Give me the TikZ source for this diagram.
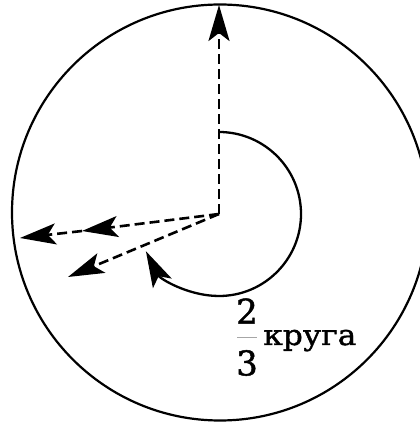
\documentclass[tikz,border=0pt]{standalone}
\usepackage{fontspec}
\setmainfont[FakeBold=1.4]{DejaVu Serif}
\newfontfamily\rufont[FakeStretch=1.1,FakeBold=1.4]{DejaVu Serif}
\usetikzlibrary{arrows.meta}
\begin{document}
\begin{tikzpicture}[x=1pt,y=1pt,
  tip/.style={-{Stealth[length=36pt,width=21pt,inset=8pt]}},
  vec/.style={tip, dash pattern=on 10pt off 5pt, line width=2.6pt},
  turn/.style={tip, line width=2.3pt},
  rim/.style={line width=2.2pt},
  digit/.style={inner sep=0pt, font=\fontsize{34}{34}\selectfont},
  word/.style={anchor=base west, inner sep=0pt, font=\rufont\fontsize{28.5}{28.5}\selectfont}]
\useasboundingbox (0,0) rectangle (420,426);
\begin{scope}
  \clip (0,0) rectangle (420,426);
  \draw[rim] (220,213.5) circle (208);
\end{scope}
\coordinate (O) at (219,212);
\coordinate (T) at (219,421);
\coordinate (M) at (82,195);
\coordinate (F) at (20,188);
\coordinate (D) at (68,149);
\draw[vec] (O) -- (T);
\draw[vec] (O) -- (M);
\draw[vec] (M) -- (F);
\draw[vec] (O) -- (D);
\draw[turn] ([shift={(90:82)}]O) arc[start angle=90, end angle=-153, radius=82];
\node[digit] (two) at (247,115) {2};
\node[digit] (three) at (247,63) {3};
\coordinate (barL) at (237,89);
\coordinate (barR) at (257,89);
\draw[gray!70, line width=0.9pt] (barL) -- (barR);
\node[word] (krug) at (263,81) {круга};
\end{tikzpicture}
\end{document}
